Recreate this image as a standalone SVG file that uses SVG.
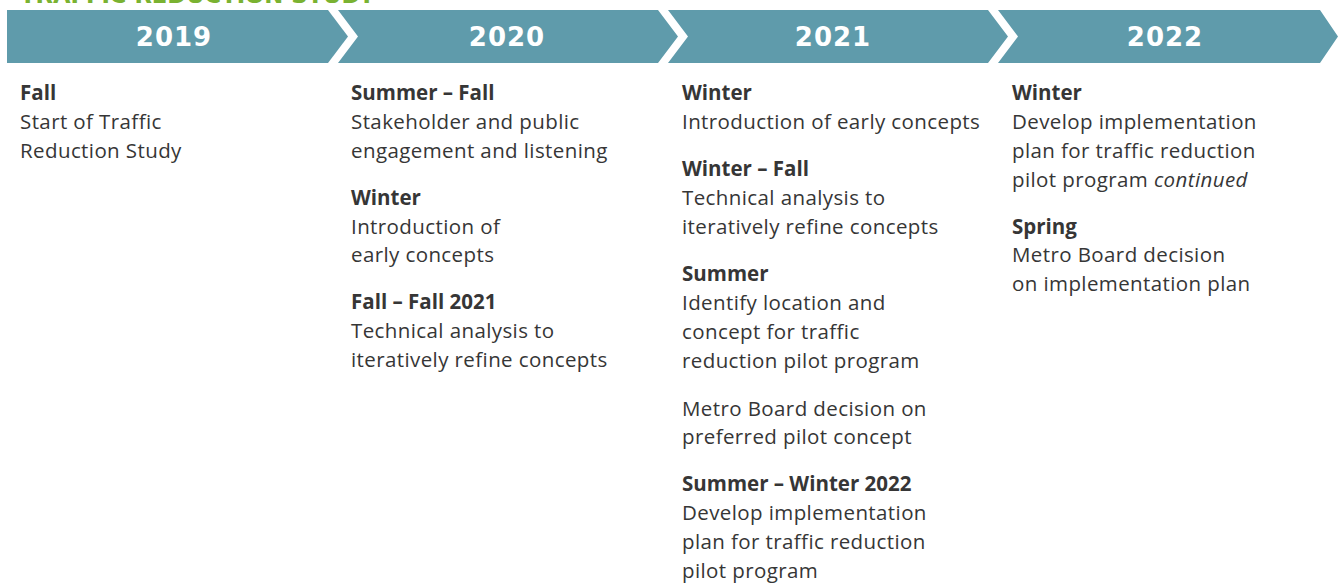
<svg xmlns="http://www.w3.org/2000/svg" width="1338" height="584" viewBox="0 0 1338 584">
<style>
.seg{fill:#5f9bab}
.yr{font-family:"DejaVu Sans",sans-serif;font-weight:bold;font-size:26px;fill:#fff;text-anchor:middle;letter-spacing:1px}
.t{font-family:"Open Sans","Liberation Sans",sans-serif;font-size:20.5px;fill:#363636;letter-spacing:0.4px}
.h{font-weight:bold;letter-spacing:0}
.i{font-style:italic}
.title{font-family:"DejaVu Sans",sans-serif;font-weight:bold;font-size:22px;fill:#7ab231}
</style>
<rect width="1338" height="584" fill="#fff"/>
<text class="title" x="20" y="3" textLength="355" lengthAdjust="spacingAndGlyphs">TRAFFIC REDUCTION STUDY</text>
<g id="banner">
<g id="y2019"><path class="seg" d="M7,10 H328 L348,36.5 L328,63 H7 Z"/><text class="yr" x="174" y="46">2019</text></g>
<g id="y2020"><path class="seg" d="M338,10 H658 L678,36.5 L658,63 H338 L358,36.5 Z"/><text class="yr" x="507" y="46">2020</text></g>
<g id="y2021"><path class="seg" d="M668,10 H988 L1008,36.5 L988,63 H668 L688,36.5 Z"/><text class="yr" x="833" y="46">2021</text></g>
<g id="y2022"><path class="seg" d="M998,10 H1320 L1338,36.5 L1320,63 H998 L1018,36.5 Z"/><text class="yr" x="1165" y="46">2022</text></g>
</g>
<g id="connectors"></g>
<g id="col2019">
<text x="20" y="100" class="t h">Fall</text>
<text x="20" y="129" class="t">Start of Traffic</text>
<text x="20" y="158" class="t">Reduction Study</text>
</g>
<g id="col2020">
<text x="351" y="100" class="t h">Summer – Fall</text>
<text x="351" y="129" class="t">Stakeholder and public</text>
<text x="351" y="158" class="t">engagement and listening</text>
<text x="351" y="205" class="t h">Winter</text>
<text x="351" y="234" class="t">Introduction of</text>
<text x="351" y="262" class="t">early concepts</text>
<text x="351" y="309" class="t h">Fall – Fall 2021</text>
<text x="351" y="338" class="t">Technical analysis to</text>
<text x="351" y="367" class="t">iteratively refine concepts</text>
</g>
<g id="col2021">
<text x="682" y="100" class="t h">Winter</text>
<text x="682" y="129" class="t">Introduction of early concepts</text>
<text x="682" y="176" class="t h">Winter – Fall</text>
<text x="682" y="205" class="t">Technical analysis to</text>
<text x="682" y="234" class="t">iteratively refine concepts</text>
<text x="682" y="281" class="t h">Summer</text>
<text x="682" y="310" class="t">Identify location and</text>
<text x="682" y="339" class="t">concept for traffic</text>
<text x="682" y="368" class="t">reduction pilot program</text>
<text x="682" y="416" class="t">Metro Board decision on</text>
<text x="682" y="444" class="t">preferred pilot concept</text>
<text x="682" y="491" class="t h">Summer – Winter 2022</text>
<text x="682" y="520" class="t">Develop implementation</text>
<text x="682" y="549" class="t">plan for traffic reduction</text>
<text x="682" y="578" class="t">pilot program</text>
</g>
<g id="col2022">
<text x="1012" y="100" class="t h">Winter</text>
<text x="1012" y="129" class="t">Develop implementation</text>
<text x="1012" y="158" class="t">plan for traffic reduction</text>
<text x="1012" y="187" class="t">pilot program <tspan class="i">continued</tspan></text>
<text x="1012" y="234" class="t h">Spring</text>
<text x="1012" y="262" class="t">Metro Board decision</text>
<text x="1012" y="291" class="t">on implementation plan</text>
</g>
</svg>
